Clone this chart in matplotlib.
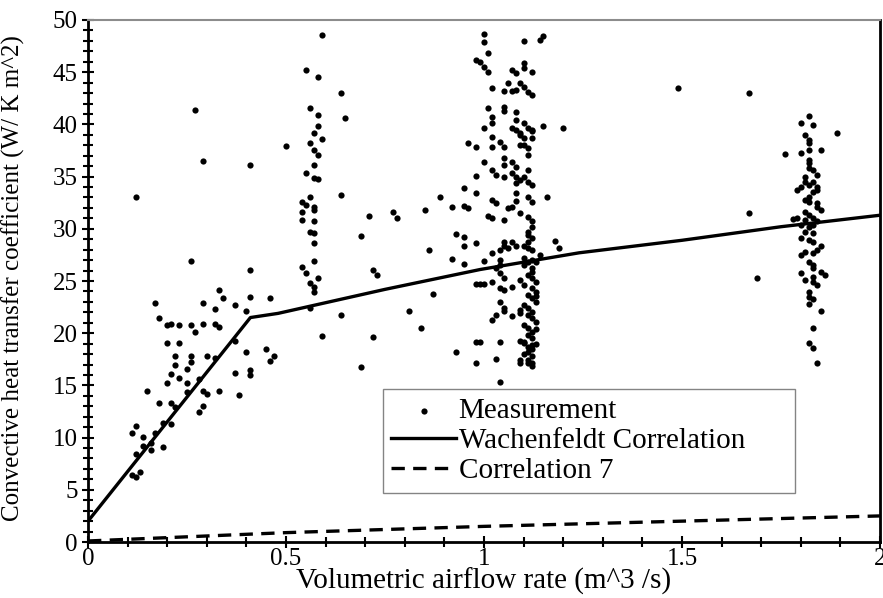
import numpy as np
import matplotlib
matplotlib.use("Agg")
import matplotlib.pyplot as plt
from matplotlib.ticker import MultipleLocator, FuncFormatter

plt.rcParams["font.family"] = ["Liberation Serif", "DejaVu Serif"]

low_x = [0.27, 0.29, 0.41, 0.12, 0.26, 0.41, 0.33, 0.34, 0.41, 0.46,
         0.17, 0.29, 0.37, 0.32, 0.40, 0.18,
         0.20, 0.21, 0.23, 0.26, 0.29, 0.32, 0.33,
         0.27, 0.20, 0.23, 0.37, 0.40, 0.45, 0.47, 0.46,
         0.22, 0.26, 0.26, 0.30, 0.32, 0.22, 0.25, 0.21, 0.23, 0.28,
         0.37, 0.41, 0.41, 0.20, 0.25, 0.15, 0.25, 0.29, 0.30, 0.33, 0.38,
         0.18, 0.21, 0.22, 0.29, 0.28, 0.19, 0.21, 0.12, 0.11, 0.14, 0.17,
         0.14, 0.16, 0.16, 0.19, 0.12, 0.13, 0.12, 0.11]
low_y = [41.4, 36.5, 36.1, 33.0, 26.9, 26.1, 24.1, 23.4, 23.5, 23.4,
         22.9, 22.9, 22.7, 22.3, 22.1, 21.5,
         20.8, 20.9, 20.8, 20.8, 20.9, 20.9, 20.6,
         20.1, 19.1, 19.1, 19.3, 18.2, 18.5, 17.8, 17.3,
         17.8, 17.8, 17.2, 17.8, 17.6, 17.0, 16.6, 16.1, 15.7, 15.6,
         16.2, 16.5, 16.0, 15.2, 15.2, 14.5, 14.4, 14.5, 14.2, 14.5, 14.1,
         13.3, 13.3, 12.9, 13.0, 12.5, 11.4, 11.3, 11.1, 10.4, 10.1, 10.4,
         9.2, 8.8, 9.5, 9.1, 8.4, 6.7, 6.2, 6.4]

mid_x = [0.59, 0.55, 0.58, 0.64, 0.56, 0.58, 0.65, 0.58, 0.57, 0.59,
         0.50, 0.56, 0.57, 0.58, 0.57, 0.55, 0.57, 0.58, 0.64, 0.56,
         0.54, 0.55, 0.57, 0.57, 0.54, 0.54, 0.57, 0.56, 0.57, 0.69,
         0.57, 0.57, 0.54, 0.55, 0.58, 0.56, 0.57, 0.57, 0.56, 0.64,
         0.71, 0.77, 0.78, 0.85, 0.89, 0.95, 0.92, 0.95, 0.96, 0.96,
         0.98, 0.98, 0.98, 0.98, 0.86, 0.92, 0.93, 0.95, 0.95, 0.95,
         0.98, 0.72, 0.73, 0.87, 0.98, 0.81, 0.84, 0.59, 0.72, 0.98,
         0.93, 0.98, 0.69]
mid_y = [48.6, 45.2, 44.5, 43.0, 41.6, 40.9, 40.6, 39.8, 39.2, 38.6,
         37.9, 38.2, 37.5, 37.1, 36.1, 35.3, 34.9, 34.8, 33.2, 33.0,
         32.6, 32.3, 32.1, 31.8, 31.6, 30.8, 30.7, 29.7, 29.6, 29.3,
         28.6, 26.9, 26.3, 25.8, 25.3, 24.8, 24.4, 23.9, 22.4, 21.7,
         31.2, 31.6, 31.0, 31.8, 33.0, 33.9, 32.1, 32.2, 32.0, 38.2,
         37.8, 35.1, 33.4, 46.2, 28.0, 27.1, 29.5, 29.2, 28.4, 26.6,
         28.6, 26.1, 25.6, 23.8, 24.7, 22.1, 20.5, 19.7, 19.6, 19.2,
         18.2, 17.1, 16.8]

one_x = [1.00, 1.00, 1.10, 1.14, 1.15, 1.01, 0.99, 1.00, 1.01, 1.10,
         1.10, 1.12, 1.07, 1.08, 1.02, 1.06, 1.05, 1.07, 1.08, 1.09,
         1.10, 1.11, 1.12, 1.01, 1.05, 1.05, 1.08, 1.02, 1.08, 1.02,
         1.10, 1.11, 1.00, 1.07, 1.08, 1.09, 1.12, 1.12, 1.15, 1.20,
         1.02, 1.09, 1.10, 1.12, 1.02, 1.04, 1.05, 1.09, 1.10, 1.11,
         1.11, 1.05, 1.00, 1.05, 1.07, 1.08, 1.02, 1.03, 1.05, 1.07,
         1.08, 1.09, 1.11, 1.10, 1.11, 1.12, 1.08, 1.08, 1.11, 1.12,
         1.02, 1.03, 1.06, 1.07, 1.08, 1.09, 1.11, 1.12, 1.12, 1.01,
         1.02, 1.05, 1.11, 1.11, 1.12, 1.11, 1.05, 1.05, 1.04, 1.07,
         1.08, 1.10, 1.11, 1.12, 1.06, 1.02, 1.10, 1.11, 1.12, 1.00,
         1.04, 1.04, 1.03,
         1.10, 1.12, 1.12, 1.11, 1.12, 1.13, 1.10, 1.12, 1.13, 1.11,
         1.12, 1.13, 1.10, 1.11, 1.12, 1.11, 1.12, 1.13, 1.10, 1.11,
         1.12, 1.11, 1.12, 1.10, 1.12, 1.12, 1.11, 1.12, 1.11, 1.12,
         1.13, 1.09, 1.13, 1.09, 1.13, 1.10, 1.14, 1.13,
         1.04, 1.05, 0.99, 1.00, 1.02, 1.04, 1.05, 1.07, 1.04, 1.05,
         1.05, 1.03, 1.02, 1.07, 1.09, 0.99, 1.04, 1.09, 1.10, 1.11,
         1.03, 1.09, 1.09, 1.11, 1.12, 1.04, 1.16, 1.18, 1.19]
one_y = [48.7, 47.9, 48.0, 48.1, 48.5, 46.8, 46.0, 45.5, 45.0, 45.9,
         45.4, 45.0, 45.2, 44.9, 43.5, 44.0, 43.2, 43.2, 43.3, 44.0,
         43.6, 43.1, 42.8, 41.6, 41.7, 41.3, 41.2, 40.7, 40.4, 40.1,
         40.1, 39.7, 39.7, 39.7, 39.5, 39.2, 39.5, 39.4, 39.8, 39.7,
         38.8, 39.0, 38.7, 38.7, 37.8, 38.3, 37.8, 38.0, 38.0, 37.7,
         37.1, 36.8, 36.4, 36.1, 36.4, 35.9, 35.6, 35.2, 35.0, 35.3,
         35.0, 34.7, 35.6, 35.0, 34.5, 34.2, 34.4, 33.4, 33.0, 32.6,
         32.8, 32.5, 32.0, 32.1, 32.7, 31.5, 31.1, 30.7, 30.2, 31.2,
         31.0, 30.8, 29.7, 29.4, 29.1, 28.7, 28.7, 28.4, 28.0, 28.7,
         28.4, 28.4, 28.2, 28.0, 28.2, 27.7, 27.2, 26.8, 27.0, 26.9,
         27.0, 26.5, 26.2,
         26.5, 26.2, 25.9, 25.6, 25.3, 24.9, 24.6, 24.3, 23.9, 23.7,
         23.4, 23.0, 22.7, 22.4, 22.0, 21.7, 21.5, 21.1, 20.8, 20.5,
         20.1, 19.8, 19.5, 19.2, 18.9, 18.5, 18.2, 17.8, 17.4, 17.1,
         26.8, 25.1, 23.6, 22.2, 20.4, 18.0, 27.5, 19.0,
         25.8, 25.3, 24.7, 24.7, 24.9, 24.3, 24.1, 24.4, 23.0, 22.4,
         22.1, 21.7, 21.3, 21.6, 21.9, 19.2, 19.2, 19.3, 19.1, 18.7,
         17.5, 17.4, 17.1, 17.1, 16.9, 15.3, 33.0, 28.8, 28.2]

high_x = [1.49, 1.67, 1.67, 1.69, 1.76, 1.89,
          1.82, 1.80, 1.83, 1.81, 1.82, 1.82, 1.80, 1.82, 1.85, 1.82,
          1.82, 1.82, 1.83, 1.84, 1.81, 1.81, 1.82, 1.83, 1.84, 1.84,
          1.79, 1.80, 1.83, 1.82, 1.81, 1.82, 1.84, 1.84, 1.85, 1.81,
          1.82, 1.78, 1.79, 1.81, 1.83, 1.84, 1.80, 1.82, 1.83, 1.81,
          1.83, 1.80, 1.82, 1.83, 1.85, 1.81, 1.80, 1.83, 1.84, 1.82,
          1.83, 1.83, 1.85, 1.86, 1.80, 1.81, 1.83, 1.83, 1.84, 1.82,
          1.82, 1.83, 1.82, 1.85, 1.83, 1.82, 1.83, 1.84]
high_y = [43.5, 43.0, 31.5, 25.3, 37.2, 39.2,
          40.8, 40.1, 39.9, 39.0, 38.5, 38.2, 37.3, 37.5, 37.5, 36.6,
          36.3, 35.8, 35.6, 35.2, 35.0, 34.5, 34.2, 34.5, 34.0, 33.7,
          33.7, 34.0, 33.5, 33.0, 32.8, 32.6, 32.5, 32.1, 31.8, 31.6,
          31.3, 30.9, 31.0, 30.8, 31.0, 30.7, 30.4, 30.2, 30.4, 29.7,
          29.6, 29.1, 28.9, 28.7, 28.4, 27.8, 27.5, 27.7, 28.0, 26.8,
          26.5, 26.2, 25.9, 25.6, 25.8, 25.1, 25.4, 24.9, 24.6, 23.9,
          23.5, 23.3, 22.8, 22.1, 20.5, 19.1, 18.6, 17.1]

meas_x = low_x + mid_x + one_x + high_x
meas_y = low_y + mid_y + one_y + high_y

# correlation curves
wach_x = [0.0, 0.41, 0.48, 0.75, 0.99, 1.24, 1.5, 1.75, 2.0]
wach_y = [2.0, 21.5, 21.9, 24.2, 26.1, 27.7, 28.9, 30.2, 31.3]
corr7_x = [0.0, 0.25, 0.5, 0.75, 1.0, 1.25, 1.5, 1.75, 2.0]
corr7_y = [0.1, 0.5, 0.9, 1.2, 1.5, 1.75, 2.0, 2.25, 2.5]

fig = plt.figure(figsize=(8.83, 5.98), dpi=100)
ax = fig.add_axes([0.0997, 0.0936, 0.897, 0.873])

ax.scatter(meas_x, meas_y, s=20, color="black", linewidths=0, label="Measurement")
ax.plot(wach_x, wach_y, color="black", lw=2.4, label="Wachenfeldt Correlation")
ax.plot(corr7_x, corr7_y, color="black", lw=2.4, ls=(0, (4, 2.5)), label="Correlation 7")

ax.set_xlim(0, 2)
ax.set_ylim(0, 50)
ax.xaxis.set_major_locator(MultipleLocator(0.5))
ax.xaxis.set_minor_locator(MultipleLocator(0.1))
ax.yaxis.set_major_locator(MultipleLocator(5))
ax.yaxis.set_minor_locator(MultipleLocator(1))
ax.xaxis.set_major_formatter(FuncFormatter(lambda v, p: f"{v:g}"))
ax.tick_params(which="both", direction="inout", labelsize=18, width=1.5)
ax.tick_params(which="major", length=9)
ax.tick_params(which="minor", length=7)
ax.tick_params(axis="x", pad=0)
ax.tick_params(axis="y", pad=3)

for side in ["left", "bottom", "right"]:
    ax.spines[side].set_linewidth(2)
ax.spines["top"].set_linewidth(1.5)
ax.spines["top"].set_color("0.55")

ax.set_xlabel("Volumetric airflow rate (m^3 /s)", fontsize=21)
ax.xaxis.set_label_coords(0.5, -0.05)
ax.set_ylabel("Convective heat transfer coefficient (W/ K m^2)", fontsize=18)
ax.yaxis.set_label_coords(-0.079, 0.505)

leg = ax.legend(loc="lower left", bbox_to_anchor=(0.372, 0.094, 0.521, 0.21),
                mode="expand", fontsize=21, frameon=True, fancybox=False,
                edgecolor="0.4", borderaxespad=0, borderpad=0.3,
                handlelength=2.2, handletextpad=0.1, labelspacing=0.12,
                scatterpoints=1, markerscale=1.0)
leg.get_frame().set_linewidth(1)

fig.savefig("out.png", dpi=100)
